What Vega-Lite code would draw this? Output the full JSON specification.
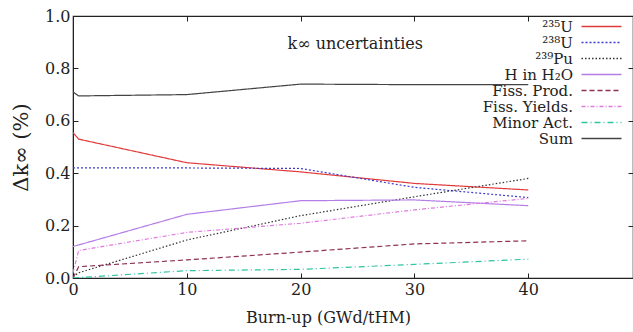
{
  "$schema": "https://vega.github.io/schema/vega-lite/v6.json",
  "width": 560,
  "height": 262,
  "autosize": {"type": "none"},
  "padding": {"left": 73, "top": 16, "right": 0, "bottom": 54},
  "background": "white",
  "config": {
    "view": {"stroke": "#222", "strokeWidth": 1.2},
    "font": "DejaVu Serif",
    "axis": {"grid": false, "domainColor": "#222", "tickColor": "#222", "labelColor": "#222", "titleColor": "#222", "labelFont": "DejaVu Serif", "titleFont": "DejaVu Serif", "labelFontSize": 16, "titleFontSize": 16, "titleFontWeight": "normal", "tickSize": -5},
    "legend": {"labelFont": "DejaVu Serif", "labelFontSize": 15, "labelColor": "#222"}
  },
  "datasets": {
    "curves": [
      {"b": 0, "v": 0.555, "s": "²³⁵U"}, {"b": 0.5, "v": 0.53, "s": "²³⁵U"}, {"b": 10, "v": 0.44, "s": "²³⁵U"}, {"b": 20, "v": 0.405, "s": "²³⁵U"}, {"b": 30, "v": 0.361, "s": "²³⁵U"}, {"b": 40, "v": 0.336, "s": "²³⁵U"},
      {"b": 0, "v": 0.42, "s": "²³⁸U"}, {"b": 10, "v": 0.42, "s": "²³⁸U"}, {"b": 20, "v": 0.418, "s": "²³⁸U"}, {"b": 30, "v": 0.346, "s": "²³⁸U"}, {"b": 40, "v": 0.307, "s": "²³⁸U"},
      {"b": 0, "v": 0.005, "s": "²³⁹Pu"}, {"b": 0.5, "v": 0.02, "s": "²³⁹Pu"}, {"b": 10, "v": 0.145, "s": "²³⁹Pu"}, {"b": 20, "v": 0.238, "s": "²³⁹Pu"}, {"b": 30, "v": 0.31, "s": "²³⁹Pu"}, {"b": 40, "v": 0.38, "s": "²³⁹Pu"},
      {"b": 0, "v": 0.12, "s": "H in H₂O"}, {"b": 10, "v": 0.243, "s": "H in H₂O"}, {"b": 20, "v": 0.295, "s": "H in H₂O"}, {"b": 30, "v": 0.298, "s": "H in H₂O"}, {"b": 40, "v": 0.276, "s": "H in H₂O"},
      {"b": 0, "v": 0.0, "s": "Fiss. Prod."}, {"b": 0.5, "v": 0.043, "s": "Fiss. Prod."}, {"b": 10, "v": 0.069, "s": "Fiss. Prod."}, {"b": 20, "v": 0.099, "s": "Fiss. Prod."}, {"b": 30, "v": 0.13, "s": "Fiss. Prod."}, {"b": 40, "v": 0.142, "s": "Fiss. Prod."},
      {"b": 0, "v": 0.02, "s": "Fiss. Yields."}, {"b": 0.5, "v": 0.105, "s": "Fiss. Yields."}, {"b": 10, "v": 0.174, "s": "Fiss. Yields."}, {"b": 20, "v": 0.209, "s": "Fiss. Yields."}, {"b": 30, "v": 0.26, "s": "Fiss. Yields."}, {"b": 40, "v": 0.304, "s": "Fiss. Yields."},
      {"b": 0, "v": 0.0, "s": "Minor Act."}, {"b": 10, "v": 0.028, "s": "Minor Act."}, {"b": 20, "v": 0.033, "s": "Minor Act."}, {"b": 30, "v": 0.052, "s": "Minor Act."}, {"b": 40, "v": 0.072, "s": "Minor Act."},
      {"b": 0, "v": 0.71, "s": "Sum"}, {"b": 0.5, "v": 0.695, "s": "Sum"}, {"b": 10, "v": 0.70, "s": "Sum"}, {"b": 20, "v": 0.74, "s": "Sum"}, {"b": 30, "v": 0.738, "s": "Sum"}, {"b": 40, "v": 0.738, "s": "Sum"}
    ],
    "notes": [
      {"b": 24.8, "v": 0.895, "label": "k∞ uncertainties"}
    ]
  },
  "resolve": {"axis": {"x": "independent", "y": "independent"}},
  "layer": [
    {
      "data": {"name": "curves"},
      "mark": {"type": "line", "strokeWidth": 1.2, "clip": true},
      "encoding": {
        "x": {"field": "b", "type": "quantitative", "scale": {"domain": [0, 49.2], "nice": false, "zero": false},
              "axis": {"orient": "bottom", "values": [0, 10, 20, 30, 40], "title": "Burn-up (GWd/tHM)", "titleX": 255, "titlePadding": 12, "labelPadding": 8, "labelFlush": false}},
        "y": {"field": "v", "type": "quantitative", "scale": {"domain": [0, 1], "nice": false},
              "axis": {"orient": "left", "values": [0, 0.2, 0.4, 0.6, 0.8, 1.0], "format": ".1f", "title": "Δk∞ (%)", "titleFontSize": 21, "titlePadding": 13, "labelPadding": 8}},
        "color": {"field": "s", "type": "nominal",
                  "scale": {"domain": ["²³⁵U", "²³⁸U", "²³⁹Pu", "H in H₂O", "Fiss. Prod.", "Fiss. Yields.", "Minor Act.", "Sum"],
                            "range": ["#e23a3a", "#3b3bd0", "#333333", "#b57ee6", "#8e2f55", "#e07ae0", "#2ec4a4", "#444444"]},
                  "legend": {"title": null, "orient": "none", "legendX": 521, "legendY": 3, "symbolType": "M-4,0H4", "symbolSize": 100, "symbolStrokeWidth": 1.5, "labelAlign": "right", "labelOffset": -36, "rowPadding": 0}},
        "strokeDash": {"field": "s", "type": "nominal",
                  "scale": {"domain": ["²³⁵U", "²³⁸U", "²³⁹Pu", "H in H₂O", "Fiss. Prod.", "Fiss. Yields.", "Minor Act.", "Sum"],
                            "range": [[1, 0], [2, 2], [1.5, 2], [1, 0], [5, 3], [4, 2, 1, 2], [6, 3, 1, 3], [1, 0]]},
                  "legend": {"title": null, "orient": "none", "legendX": 521, "legendY": 3, "symbolType": "M-4,0H4", "symbolSize": 100, "symbolStrokeWidth": 1.5, "labelAlign": "right", "labelOffset": -36, "rowPadding": 0}}
      }
    },
    {
      "data": {"name": "notes"},
      "mark": {"type": "text", "fontSize": 16, "font": "DejaVu Serif", "color": "#222"},
      "encoding": {
        "x": {"field": "b", "type": "quantitative", "scale": {"domain": [0, 49.2], "nice": false, "zero": false},
              "axis": {"orient": "top", "values": [0, 10, 20, 30, 40], "labels": false, "title": null}},
        "y": {"field": "v", "type": "quantitative", "scale": {"domain": [0, 1], "nice": false},
              "axis": {"orient": "right", "values": [0, 0.2, 0.4, 0.6, 0.8, 1.0], "labels": false, "title": null}},
        "text": {"field": "label"}
      }
    }
  ]
}
